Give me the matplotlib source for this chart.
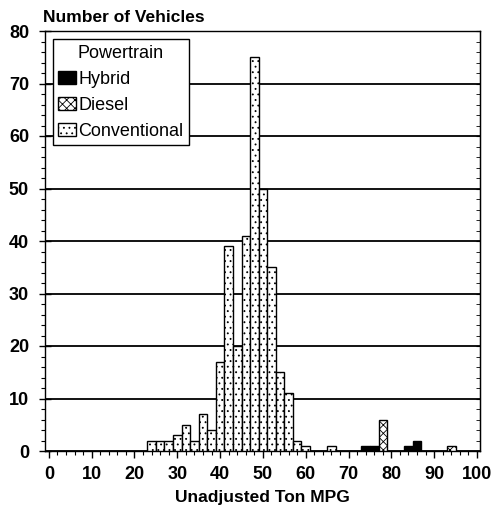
#!/usr/bin/env python3
# Histogram of unadjusted ton MPG by powertrain type (stacked-style bars, 2 MPG bins)

import matplotlib
matplotlib.use("Agg")
import matplotlib.pyplot as plt
from matplotlib.ticker import MultipleLocator

plt.rcParams['font.family'] = ['Liberation Sans', 'DejaVu Sans']
plt.rcParams['hatch.linewidth'] = 0.6

# bin centres (2 MPG wide bins) and vehicle counts
conv_mpg = [24, 26, 28, 30, 32, 34, 36, 38, 40, 42, 44, 46, 48, 50, 52, 54, 56, 58, 60, 66]
conv_count = [2, 2, 2, 3, 5, 2, 7, 4, 17, 39, 20, 41, 75, 50, 35, 15, 11, 2, 1, 1]
diesel_mpg = [78, 94]
diesel_count = [6, 1]
hybrid_mpg = [74, 76, 84, 86]
hybrid_count = [1, 1, 1, 2]

x_ticks = [0, 10, 20, 30, 40, 50, 60, 70, 80, 90, 100]
y_ticks = [0, 10, 20, 30, 40, 50, 60, 70, 80]

fig = plt.figure(figsize=(4.91, 5.17), dpi=100)
ax = fig.add_axes([45/491, 66/517, 435/491, 420/517])

ax.bar(hybrid_mpg, hybrid_count, width=2, color='black', edgecolor='black',
       linewidth=1, label='Hybrid', zorder=3)
ax.bar(diesel_mpg, diesel_count, width=2, color='white', edgecolor='black',
       hatch='xxxx', linewidth=1, label='Diesel', zorder=3)
ax.bar(conv_mpg, conv_count, width=2, color='white', edgecolor='black',
       hatch='...', linewidth=1, label='Conventional', zorder=3)

ax.set_xlim(-0.9, 100.7)
ax.set_ylim(0, 80)
ax.set_xticks(x_ticks)
ax.set_yticks(y_ticks)
ax.xaxis.set_minor_locator(MultipleLocator(2))
ax.yaxis.set_minor_locator(MultipleLocator(2))

for t in ax.get_xticklabels() + ax.get_yticklabels():
    t.set_fontweight('bold')
    t.set_fontsize(13)

ax.tick_params(axis='x', which='major', direction='out', length=5, width=1, pad=6)
ax.tick_params(axis='x', which='minor', direction='out', length=3, width=0.8)
ax.tick_params(axis='y', which='major', direction='inout', length=9, width=1, pad=7)
ax.tick_params(axis='y', which='minor', direction='out', length=3, width=0.8)

right = ax.secondary_yaxis('right')
right.set_yticks(y_ticks)
right.yaxis.set_minor_locator(MultipleLocator(2))
right.tick_params(which='both', direction='in', labelright=False, length=3)

for s in ax.spines.values():
    s.set_color('black')
    s.set_linewidth(1)

ax.yaxis.grid(True, color='black', linewidth=1.3)
ax.set_axisbelow(True)

ax.set_xlabel('Unadjusted Ton MPG', fontsize=12.5, fontweight='bold')
ax.xaxis.set_label_coords(0.5, -39/420)
fig.text(43/491, 1 - 17/517, 'Number of Vehicles', fontsize=12.5,
         fontweight='bold', ha='left', va='center')

leg = ax.legend(title='Powertrain', loc='upper left', bbox_to_anchor=(0.018, 0.98),
                fontsize=13, title_fontsize=13, frameon=True, fancybox=False,
                framealpha=1, edgecolor='black', handlelength=1.0, handleheight=0.75,
                handletextpad=0.1, borderpad=0.3, labelspacing=0.5, borderaxespad=0)
leg.get_frame().set_linewidth(1)
leg.set_zorder(5)

fig.savefig('out.png', dpi=100)
